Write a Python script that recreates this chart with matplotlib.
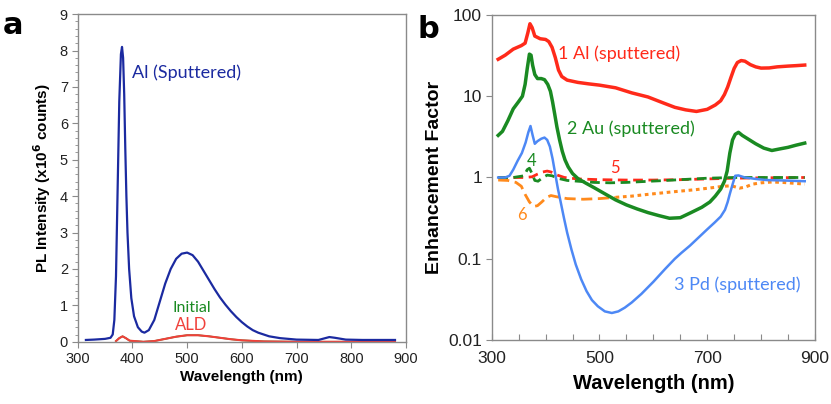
import matplotlib
matplotlib.use("Agg")
import matplotlib.pyplot as plt
from matplotlib.ticker import MultipleLocator, FixedLocator, NullLocator

# ---------------- Panel a data ----------------
a_al_x = [315, 330, 350, 360, 364, 367, 370, 373, 376, 379, 381, 383, 385, 387, 389, 391, 394, 398, 403, 410, 417, 422,
          430, 440, 450, 460, 470, 480, 490, 500, 510, 520, 530, 540, 550, 560, 570, 580, 590, 600, 610, 620, 630,
          650, 670, 700, 740, 750, 760, 770, 790, 820, 880]
a_al_y = [0.05, 0.06, 0.08, 0.11, 0.2, 0.6, 1.8, 4.2, 6.6, 7.9, 8.1, 7.8, 6.8, 5.3, 4.0, 3.0, 2.0, 1.2, 0.7, 0.4, 0.28, 0.25,
          0.32, 0.6, 1.1, 1.6, 2.0, 2.28, 2.42, 2.45, 2.38, 2.2, 1.95, 1.7, 1.45, 1.22, 1.02, 0.84, 0.68, 0.54, 0.42, 0.32, 0.25,
          0.15, 0.1, 0.06, 0.05, 0.09, 0.13, 0.11, 0.06, 0.05, 0.05]

a_init_x = [370, 376, 382, 388, 395, 420, 440, 460, 480, 500, 520, 540, 560, 580, 600, 640, 700, 880]
a_init_y = [0.02, 0.1, 0.15, 0.1, 0.03, 0.0, 0.02, 0.08, 0.14, 0.18, 0.18, 0.15, 0.11, 0.07, 0.04, 0.01, 0.0, 0.0]

a_ald_x = [370, 376, 382, 388, 395, 420, 440, 460, 480, 500, 520, 540, 560, 580, 600, 640, 700, 880]
a_ald_y = [0.02, 0.1, 0.15, 0.1, 0.03, 0.0, 0.02, 0.08, 0.14, 0.18, 0.18, 0.15, 0.11, 0.07, 0.04, 0.01, 0.0, 0.0]

a_xticks = [300, 400, 500, 600, 700, 800, 900]
a_yticks = [0, 1, 2, 3, 4, 5, 6, 7, 8, 9]

# ---------------- Panel b data ----------------
b_al_x = [312, 325, 340, 355, 362, 367, 371, 375, 380, 390, 400, 406, 412, 418, 424, 430, 440, 460, 480, 500, 530, 560,
          590, 620, 640, 660, 680, 700, 715, 725, 732, 738, 744, 750, 756, 763, 770, 780, 790, 800, 815, 830, 850, 865, 881]
b_al_y = [28.5, 32, 38, 42, 45, 60, 78, 70, 55, 51, 50, 47, 40, 30, 21, 17.5, 15.8, 14.8, 14.2, 13.7, 12.7, 11,
          9.8, 8.2, 7.3, 6.8, 6.5, 6.9, 7.8, 8.8, 10.5, 13, 17, 22, 26, 27.5, 27, 24.5, 23, 22.2, 22.3, 23, 23.5, 23.8, 24.2]

b_au_x = [312, 320, 330, 340, 350, 357, 362, 366, 370, 373, 376, 380, 385, 392, 398, 404, 409, 413, 417, 421, 426, 431,
          436, 442, 450, 460, 475, 490, 510, 530, 550, 570, 590, 610, 630, 650, 670, 690, 705, 715, 725, 732, 737, 742,
          747, 752, 758, 765, 775, 790, 805, 820, 835, 850, 865, 881]
b_au_y = [3.3, 3.7, 5, 7, 8.6, 10, 14, 22, 33, 32, 24, 18.5, 16.5, 16.5, 16, 14, 11.5, 8.5, 6, 4.2, 2.9, 2.1,
          1.65, 1.35, 1.12, 0.97, 0.85, 0.75, 0.63, 0.53, 0.46, 0.41, 0.37, 0.34, 0.315, 0.32, 0.37, 0.43, 0.5, 0.59, 0.72, 0.9, 1.2, 2.0,
          2.9, 3.4, 3.6, 3.3, 3.0, 2.6, 2.3, 2.15, 2.25, 2.35, 2.5, 2.65]

b_pd_x = [312, 325, 333, 340, 348, 356, 363, 368, 372, 376, 380, 385, 392, 398, 403, 408, 413, 418, 423, 428, 434, 440,
          448, 456, 466, 476, 486, 497, 510, 523, 535, 547, 560, 578, 600, 622, 640, 652, 668, 683, 700, 714, 725, 733,
          738, 742, 747, 752, 758, 770, 790, 810, 840, 860, 881]
b_pd_y = [1.0, 1.0, 1.05, 1.25, 1.6, 2.0, 2.7, 3.6, 4.3, 3.3, 2.6, 2.8, 3.0, 3.1, 2.9, 2.4, 1.7, 1.1, 0.72, 0.5, 0.32, 0.21,
          0.13, 0.085, 0.056, 0.04, 0.031, 0.026, 0.0225, 0.0215, 0.0225, 0.025, 0.029, 0.037, 0.052, 0.075, 0.1, 0.118, 0.145, 0.18, 0.23, 0.28, 0.33, 0.4,
          0.5, 0.63, 0.82, 1.05, 1.06, 1.0, 0.96, 0.93, 0.92, 0.91, 0.9]

b_4_x = [312, 340, 360, 366, 370, 374, 380, 386, 395, 403, 412, 425, 440, 460, 490, 520, 550, 580, 610, 650, 700, 750, 800, 881]
b_4_y = [1.0, 1.0, 1.05, 1.25, 1.3, 1.15, 0.92, 0.9, 1.0, 1.07, 1.05, 0.97, 0.92, 0.9, 0.87, 0.86, 0.87, 0.89, 0.91, 0.94, 0.98, 1.0, 1.0, 1.0]

b_5_x = [312, 340, 360, 375, 385, 395, 403, 410, 420, 435, 460, 500, 550, 600, 650, 700, 750, 800, 881]
b_5_y = [1.0, 1.0, 1.0, 1.02, 1.1, 1.17, 1.2, 1.17, 1.08, 1.0, 0.96, 0.94, 0.93, 0.93, 0.94, 0.96, 0.98, 0.99, 1.0]

b_6_x = [312, 330, 345, 355, 362, 370, 378, 385, 393, 402, 410, 420, 440, 470, 500, 530, 560, 590, 620, 650, 680, 710,
         730, 745, 760, 770, 785, 800, 820, 840, 860, 881]
b_6_y = [0.93, 0.92, 0.87, 0.78, 0.62, 0.5, 0.44, 0.45, 0.5, 0.57, 0.6, 0.58, 0.55, 0.54, 0.55, 0.57, 0.59, 0.62, 0.65, 0.68, 0.71, 0.75,
         0.78, 0.79, 0.74, 0.76, 0.83, 0.86, 0.88, 0.87, 0.85, 0.83]

b_xticks = [300, 500, 700, 900]
b_yticks = [0.01, 0.1, 1, 10, 100]
b_yticklabels = ["0.01", "0.1", "1", "10", "100"]

# ---------------- styling ----------------
BLUE_A = "#1b2aa0"
GREEN = "#1a8a22"
RED_A = "#f0403a"
RED_B = "#ff2a1a"
BLUE_B = "#4d88f5"
ORANGE = "#ff8a1c"
SPINE = "#8a8a8a"
ANNFONT = "Lato"

plt.rcParams["font.family"] = ["Liberation Sans", "DejaVu Sans"]

fig = plt.figure(figsize=(8.31, 4.04), dpi=100)
ax1 = fig.add_axes([0.0935, 0.154, 0.395, 0.811])
ax2 = fig.add_axes([0.5917, 0.1584, 0.389, 0.8045])

# ---- panel a ----
ax1.plot(a_al_x, a_al_y, color=BLUE_A, lw=1.6, zorder=3)
ax1.plot(a_init_x, a_init_y, color=GREEN, lw=1.2, zorder=2)
ax1.plot(a_ald_x, a_ald_y, color=RED_A, lw=1.5, zorder=2.5)
ax1.set_xlim(300, 900)
ax1.set_ylim(0, 9)
ax1.set_xticks(a_xticks)
ax1.set_yticks(a_yticks)
ax1.yaxis.set_minor_locator(MultipleLocator(0.2))
ax1.tick_params(axis="both", which="major", direction="out", length=4, width=0.8, color=SPINE,
                labelsize=10.5, labelcolor="#222222", pad=3)
ax1.tick_params(axis="y", which="minor", direction="out", length=2.5, width=0.6, color=SPINE)
for s in ax1.spines.values():
    s.set_color(SPINE)
    s.set_linewidth(1.0)
ax1.set_xlabel("Wavelength (nm)", fontsize=11, fontweight="bold", labelpad=3)
ax1.set_ylabel("PL Intensity (x10$^{\\mathbf{6}}$ counts)", fontsize=11, fontweight="bold", labelpad=5)
ax1.text(400, 7.4, "Al (Sputtered)", color=BLUE_A, fontsize=13, family=ANNFONT, va="center", ha="left")
ax1.text(508, 0.92, "Initial", color=GREEN, fontsize=11.5, family=ANNFONT, va="center", ha="center")
ax1.text(508, 0.47, "ALD", color=RED_A, fontsize=12, family=ANNFONT, va="center", ha="center")
fig.text(0.003, 0.915, "a", fontsize=22, fontweight="bold", family="DejaVu Sans")

# ---- panel b ----
ax2.set_yscale("log")
ax2.plot(b_5_x, b_5_y, color=RED_B, lw=2.0, ls=(0, (3.5, 2)), zorder=2)
ax2.plot(b_4_x, b_4_y, color=GREEN, lw=2.0, ls=(0, (3.5, 2)), zorder=2.2)
ax2.plot(b_6_x[:16], b_6_y[:16], color=ORANGE, lw=2.0, ls=(0, (4, 2)), zorder=2.1)
ax2.plot(b_6_x[15:], b_6_y[15:], color=ORANGE, lw=2.2, ls=(0, (1.2, 1.2)), zorder=2.1)
ax2.plot(b_pd_x, b_pd_y, color=BLUE_B, lw=1.8, zorder=3)
ax2.plot(b_au_x, b_au_y, color=GREEN, lw=2.5, zorder=4)
ax2.plot(b_al_x, b_al_y, color=RED_B, lw=2.5, zorder=5)
ax2.set_xlim(300, 900)
ax2.set_ylim(0.01, 100)
ax2.xaxis.set_major_locator(FixedLocator(b_xticks))
ax2.xaxis.set_minor_locator(MultipleLocator(50))
ax2.yaxis.set_major_locator(FixedLocator(b_yticks))
ax2.yaxis.set_minor_locator(NullLocator())
ax2.set_yticklabels(b_yticklabels)
ax2.tick_params(axis="x", which="both", direction="in", length=4, width=0.8, color=SPINE,
                labelsize=12.5, labelcolor="#222222", pad=8)
ax2.tick_params(axis="y", which="major", direction="out", length=4, width=0.8, color=SPINE,
                labelsize=12.5, labelcolor="#222222", pad=3)
for s in ax2.spines.values():
    s.set_color(SPINE)
    s.set_linewidth(1.0)
ax2.set_xlabel("Wavelength (nm)", fontsize=14.5, fontweight="bold", labelpad=6)
ax2.set_ylabel("Enhancement Factor", fontsize=14, fontweight="bold", labelpad=4)
ax2.text(423, 33, "1 Al (sputtered)", color=RED_B, fontsize=13, family=ANNFONT, va="center", ha="left")
ax2.text(440, 4.0, "2 Au (sputtered)", color=GREEN, fontsize=13, family=ANNFONT, va="center", ha="left")
ax2.text(638, 0.048, "3 Pd (sputtered)", color=BLUE_B, fontsize=13, family=ANNFONT, va="center", ha="left")
ax2.text(374, 1.6, "4", color=GREEN, fontsize=12, family=ANNFONT, va="center", ha="center")
ax2.text(528, 1.3, "5", color=RED_B, fontsize=12, family=ANNFONT, va="center", ha="center")
ax2.text(356, 0.35, "6", color=ORANGE, fontsize=12, family=ANNFONT, va="center", ha="center")
fig.text(0.503, 0.905, "b", fontsize=22, fontweight="bold", family="DejaVu Sans")

fig.savefig("out.png", dpi=100)
